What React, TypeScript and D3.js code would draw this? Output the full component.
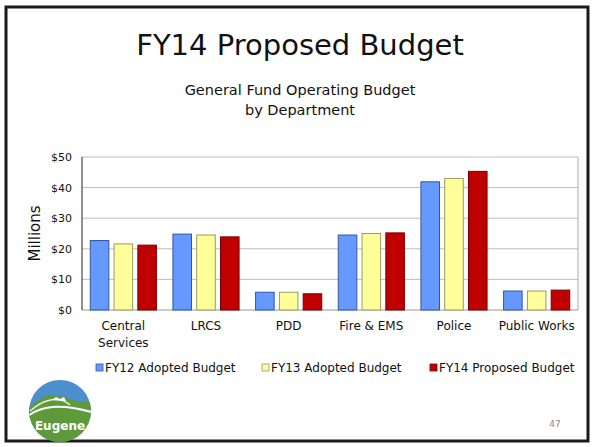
import React from "react";
import * as d3 from "d3";

const categories = ["Central Services", "LRCS", "PDD", "Fire & EMS", "Police", "Public Works"];
const seriesNames = ["FY12 Adopted Budget", "FY13 Adopted Budget", "FY14 Proposed Budget"];
const fy12 = [22.7, 24.8, 5.8, 24.5, 41.9, 6.2];
const fy13 = [21.6, 24.5, 5.8, 25.0, 43.0, 6.2];
const fy14 = [21.2, 23.9, 5.3, 25.2, 45.3, 6.5];
const yTicks = [0, 10, 20, 30, 40, 50];
const colors = ["#6699ff", "#ffff99", "#c00000"];
const strokes = ["#2f55a8", "#9a9a60", "#7a0000"];

const FONT = "'DejaVu Sans', Verdana, sans-serif";

export default function App() {
  const W = 592, H = 447;
  const left = 82, right = 578, top = 157, bottom = 310;
  const series = [fy12, fy13, fy14];
  const x0 = d3.scaleBand<string>().domain(categories).range([left, right]).paddingInner(0.2).paddingOuter(0.1);
  const x1 = d3.scaleBand<number>().domain([0, 1, 2]).range([0, x0.bandwidth()]).paddingInner(0.22);
  const y = d3.scaleLinear().domain([0, 50]).range([bottom, top]);

  const labelLines = (c: string) => (c === "Central Services" ? ["Central", "Services"] : [c]);
  const legendX = [96, 262, 430];
  const lcx = 60, lcy = 411;

  return (
    <svg width={W} height={H} style={{ position: "absolute", left: 0, top: 0, background: "#fff" }} fontFamily={FONT}>
      <rect x={0} y={0} width={W} height={H} fill="#fff" />
      <rect x={6} y={7} width={582} height={434} fill="none" stroke="#1a1a1a" strokeWidth={3} />
      <text x={300} y={55} textAnchor="middle" fontSize={29} fill="#111">FY14 Proposed Budget</text>
      <text x={300} y={95} textAnchor="middle" fontSize={14.5} fill="#111">General Fund Operating Budget</text>
      <text x={300} y={115} textAnchor="middle" fontSize={14.5} fill="#111">by Department</text>

      {yTicks.map((t) => (
        <g key={t}>
          {t > 0 && <line x1={left} x2={right} y1={y(t)} y2={y(t)} stroke="#bdbdbd" strokeWidth={1} />}
          <text x={72} y={y(t) + 4} textAnchor="end" fontSize={11} fill="#111">${t}</text>
        </g>
      ))}
      <line x1={right} x2={right} y1={top} y2={bottom} stroke="#aaa" />
      <line x1={left} x2={right} y1={bottom} y2={bottom} stroke="#999" />
      <line x1={left} x2={left} y1={top} y2={bottom} stroke="#222" />

      <text transform={`translate(40,${(top + bottom) / 2}) rotate(-90)`} textAnchor="middle" fontSize={15} fill="#111">Millions</text>

      {categories.map((c, i) => (
        <g key={c}>
          {series.map((s, k) => (
            <rect
              key={k}
              x={(x0(c) as number) + (x1(k) as number)}
              y={y(s[i])}
              width={x1.bandwidth()}
              height={bottom - y(s[i])}
              fill={colors[k]}
              stroke={strokes[k]}
              strokeWidth={1}
            />
          ))}
          {labelLines(c).map((l, j) => (
            <text key={j} x={(x0(c) as number) + x0.bandwidth() / 2} y={330 + j * 17} textAnchor="middle" fontSize={12} fill="#111">{l}</text>
          ))}
        </g>
      ))}

      {seriesNames.map((n, k) => (
        <g key={n}>
          <rect x={legendX[k]} y={364} width={7} height={7} fill={colors[k]} stroke={strokes[k]} strokeWidth={0.8} />
          <text x={legendX[k] + 9} y={372} fontSize={12} fill="#111">{n}</text>
        </g>
      ))}

      <defs>
        <clipPath id="logoClip">
          <circle cx={lcx} cy={lcy} r={31} />
        </clipPath>
      </defs>
      <g clipPath="url(#logoClip)">
        <rect x={lcx - 35} y={lcy - 35} width={70} height={70} fill="#4d8fcc" />
        <path d={`M${lcx - 36},${lcy + 2} C${lcx - 25},${lcy - 10} ${lcx - 15},${lcy - 17} ${lcx - 5},${lcy - 16} C${lcx + 5},${lcy - 15} ${lcx + 18},${lcy - 6} ${lcx + 35},${lcy - 10} L${lcx + 35},${lcy + 35} L${lcx - 36},${lcy + 35} Z`} fill="#5f9a3a" />
        <path d={`M${lcx - 36},${lcy + 8} C${lcx - 20},${lcy - 6} ${lcx},${lcy - 8} ${lcx + 35},${lcy + 2}`} fill="none" stroke="#fff" strokeWidth={2} />
        <path d={`M${lcx - 30},${lcy} C${lcx - 15},${lcy - 13} ${lcx},${lcy - 15} ${lcx + 10},${lcy - 6}`} fill="none" stroke="#e8f0e0" strokeWidth={1.5} />
        <path d={`M${lcx - 8},${lcy - 11} L${lcx - 4},${lcy - 14} L${lcx},${lcy - 12} L${lcx + 4},${lcy - 14} L${lcx + 6},${lcy - 10} Z`} fill="#fff" />
      </g>
      <text x={lcx} y={lcy + 19} textAnchor="middle" fontSize={12} fontWeight="bold" fill="#fff">Eugene</text>

      <text x={555} y={427} textAnchor="middle" fontSize={9} fill="#888">47</text>
    </svg>
  );
}
